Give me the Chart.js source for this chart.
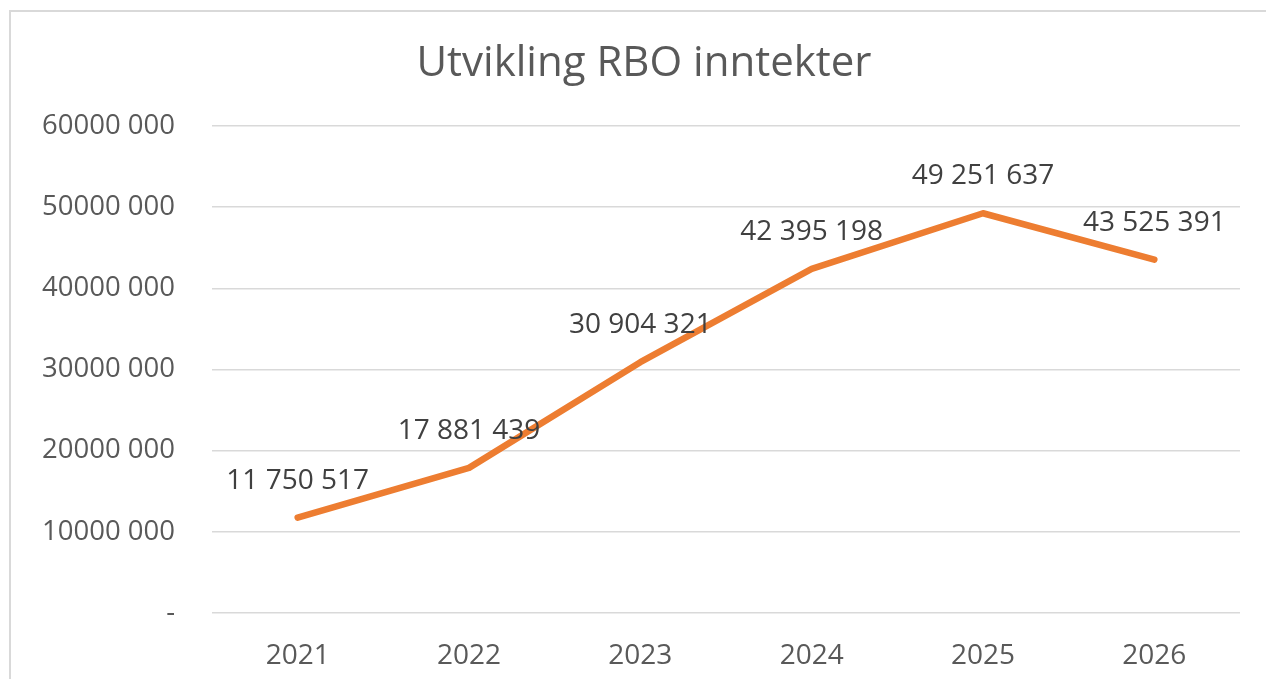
<!DOCTYPE html>
<html>
<head>
<meta charset="utf-8">
<script src="https://cdn.jsdelivr.net/npm/chart.js@4.4.1/dist/chart.umd.min.js"></script>
<style>
  html, body { margin: 0; padding: 0; background: #ffffff; overflow: hidden; }
  #frame { position: absolute; left: 9px; top: 10px; width: 1400px; height: 800px; border: 2px solid #d9d9d9; box-sizing: border-box; }
  #wrap { position: absolute; left: 0; top: 0; width: 1266px; height: 679px; }
</style>
</head>
<body>
<div id="frame"></div>
<div id="wrap"><canvas id="c" width="1266" height="679"></canvas></div>
<script>
const categories = ["2021", "2022", "2023", "2024", "2025", "2026"];
const revenue = [11750517, 17881439, 30904321, 42395198, 49251637, 43525391];
const yTickLabels = ["-", "10000 000", "20000 000", "30000 000", "40000 000", "50000 000", "60000 000"];
const chartTitle = "Utvikling RBO inntekter";

function groupThousands(v) {
  return String(v).replace(/\B(?=(\d{3})+(?!\d))/g, " ");
}

const FONT = "'Open Sans', 'DejaVu Sans', sans-serif";

const titleAndLabels = {
  id: 'titleAndLabels',
  afterDatasetsDraw(chart) {
    const ctx = chart.ctx;
    const meta = chart.getDatasetMeta(0);
    ctx.save();
    ctx.font = "28px " + FONT;
    ctx.fillStyle = "#404040";
    ctx.textAlign = "center";
    ctx.textBaseline = "middle";
    meta.data.forEach((pt, i) => {
      ctx.fillText(groupThousands(chart.data.datasets[0].data[i]), pt.x, pt.y - 37);
    });
    ctx.font = "42px " + FONT;
    ctx.fillStyle = "#595959";
    ctx.textBaseline = "alphabetic";
    ctx.fillText(chartTitle, 644, 76);
    ctx.restore();
  }
};

new Chart(document.getElementById('c'), {
  type: 'line',
  data: {
    labels: categories,
    datasets: [{
      data: revenue,
      borderColor: "#ED7D31",
      borderWidth: 6.5,
      borderCapStyle: 'round',
      borderJoinStyle: 'round',
      pointRadius: 0,
      pointHoverRadius: 0,
      tension: 0,
      fill: false
    }]
  },
  options: {
    responsive: false,
    animation: false,
    devicePixelRatio: 1,
    layout: { padding: { left: 0, right: 26, top: 126, bottom: 0 } },
    plugins: {
      legend: { display: false },
      tooltip: { enabled: false },
      title: { display: false }
    },
    scales: {
      x: {
        offset: true,
        grid: { display: false },
        border: { display: false },
        ticks: { color: "#595959", font: { family: FONT, size: 28 }, padding: 18, maxRotation: 0 },
        afterFit(scale) { scale.height = 66; }
      },
      y: {
        min: 0,
        max: 60000000,
        grid: { color: "#d9d9d9", lineWidth: 1.5, drawTicks: false },
        border: { display: false },
        ticks: {
          stepSize: 10000000,
          color: "#595959",
          font: { family: FONT, size: 27.5 },
          padding: 37,
          callback: (v, i) => yTickLabels[i]
        },
        afterFit(scale) { scale.width = 212; }
      }
    }
  },
  plugins: [titleAndLabels]
});
</script>
</body>
</html>
